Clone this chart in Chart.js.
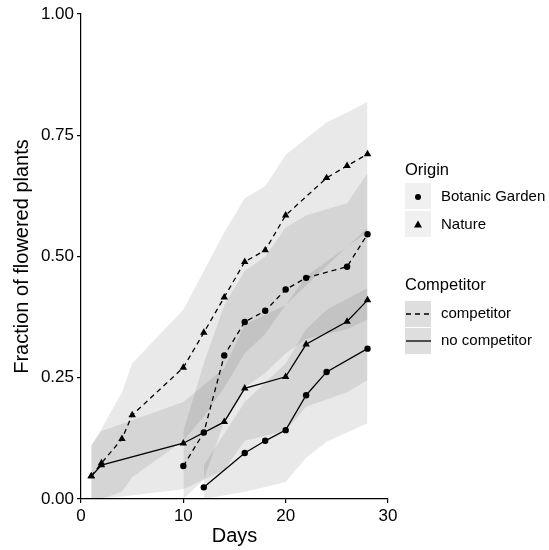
<!DOCTYPE html>
<html>
<head>
<meta charset="utf-8">
<script src="https://cdn.jsdelivr.net/npm/chart.js@4"></script>
<style>
  html, body { margin: 0; padding: 0; background: #fff; }
  #wrap { width: 549px; height: 550px; position: relative; }
</style>
</head>
<body>
<div id="wrap"><canvas id="flowerChart"></canvas></div>
<script>
// Nature, with competitor
const natCompDays  = [1, 2, 4, 5, 10, 12, 14, 16, 18, 20, 24, 26, 28];
const natCompFrac  = [0.047, 0.074, 0.124, 0.173, 0.271, 0.343, 0.416, 0.489, 0.513, 0.585, 0.662, 0.687, 0.711];
const natCompUpper = [0.11, 0.145, 0.22, 0.28, 0.39, 0.47, 0.55, 0.62, 0.645, 0.71, 0.777, 0.797, 0.819];
const natCompLower = [0, 0, 0.015, 0.045, 0.12, 0.17, 0.23, 0.30, 0.34, 0.40, 0.48, 0.52, 0.55];

// Nature, no competitor
const natNoDays  = [1, 2, 10, 14, 16, 20, 22, 26, 28];
const natNoFrac  = [0.047, 0.07, 0.115, 0.159, 0.228, 0.252, 0.319, 0.366, 0.41];
const natNoUpper = [0.11, 0.14, 0.2, 0.27, 0.36, 0.40, 0.46, 0.52, 0.56];
const natNoLower = [0, 0, 0.02, 0.06, 0.12, 0.14, 0.19, 0.22, 0.245];

// Botanic Garden, with competitor
const botCompDays  = [10, 12, 14, 16, 18, 20, 22, 26, 28];
const botCompFrac  = [0.068, 0.137, 0.296, 0.365, 0.388, 0.432, 0.456, 0.479, 0.546];
const botCompUpper = [0.14, 0.28, 0.40, 0.47, 0.50, 0.56, 0.585, 0.61, 0.672];
const botCompLower = [0, 0.04, 0.16, 0.23, 0.26, 0.30, 0.33, 0.35, 0.37];

// Botanic Garden, no competitor
const botNoDays  = [12, 16, 18, 20, 22, 24, 28];
const botNoFrac  = [0.024, 0.095, 0.12, 0.142, 0.214, 0.262, 0.31];
const botNoUpper = [0.07, 0.2, 0.24, 0.28, 0.35, 0.39, 0.435];
const botNoLower = [0, 0.015, 0.025, 0.035, 0.085, 0.118, 0.156];

const xTicks = [0, 10, 20, 30];
const yTicks = [0, 0.25, 0.5, 0.75, 1];

const FONT = '"Liberation Sans", Arial, sans-serif';
const RIBBON = 'rgba(0,0,0,0.085)';

function pts(xs, ys) {
    return xs.map((x, i) => ({ x: x, y: ys[i] }));
}

function ribbon(xs, upper, lower) {
    return [
        { data: pts(xs, upper), borderWidth: 0, pointRadius: 0, fill: '+1', backgroundColor: RIBBON, order: 2 },
        { data: pts(xs, lower), borderWidth: 0, pointRadius: 0, fill: false, order: 2 }
    ];
}

function line(xs, ys, dashed, shape) {
    return {
        data: pts(xs, ys),
        borderColor: '#000',
        borderWidth: 1.3,
        borderDash: dashed ? [5, 4] : [],
        pointStyle: shape,
        pointRadius: shape === 'triangle' ? 4.3 : 3.2,
        pointBackgroundColor: '#000',
        pointBorderColor: '#000',
        pointBorderWidth: 0,
        fill: false,
        tension: 0,
        order: 1
    };
}

// ggplot style legend at the right
const sideLegend = {
    id: 'sideLegend',
    afterDraw(chart) {
        const ctx = chart.ctx;
        ctx.save();
        ctx.fillStyle = '#000';
        ctx.textBaseline = 'middle';
        ctx.textAlign = 'left';

        ctx.font = '16.5px ' + FONT;
        ctx.fillText('Origin', 405, 170);
        ctx.fillText('Competitor', 405, 285);

        ctx.fillStyle = '#f0f0f0';
        ctx.fillRect(405, 183, 26, 26);
        ctx.fillRect(405, 211, 26, 26);
        ctx.fillStyle = '#dedede';
        ctx.fillRect(405, 301, 26, 26);
        ctx.fillRect(405, 328, 26, 26);

        ctx.fillStyle = '#000';
        ctx.beginPath();
        ctx.arc(418, 197, 3, 0, Math.PI * 2);
        ctx.fill();
        ctx.beginPath();
        ctx.moveTo(418, 220.5);
        ctx.lineTo(422, 227.5);
        ctx.lineTo(414, 227.5);
        ctx.closePath();
        ctx.fill();

        ctx.strokeStyle = '#000';
        ctx.lineWidth = 1.3;
        ctx.setLineDash([5, 4]);
        ctx.beginPath();
        ctx.moveTo(406, 314);
        ctx.lineTo(431, 314);
        ctx.stroke();
        ctx.setLineDash([]);
        ctx.beginPath();
        ctx.moveTo(406, 341);
        ctx.lineTo(431, 341);
        ctx.stroke();

        ctx.font = '15px ' + FONT;
        ctx.fillText('Botanic Garden', 441, 197);
        ctx.fillText('Nature', 441, 225);
        ctx.fillText('competitor', 441, 314);
        ctx.fillText('no competitor', 441, 341);
        ctx.restore();
    }
};

const ctx = document.getElementById('flowerChart').getContext('2d');

new Chart(ctx, {
    type: 'line',
    data: {
        datasets: [
            line(natCompDays, natCompFrac, true, 'triangle'),
            line(natNoDays, natNoFrac, false, 'triangle'),
            line(botCompDays, botCompFrac, true, 'circle'),
            line(botNoDays, botNoFrac, false, 'circle'),
            ...ribbon(natCompDays, natCompUpper, natCompLower),
            ...ribbon(natNoDays, natNoUpper, natNoLower),
            ...ribbon(botCompDays, botCompUpper, botCompLower),
            ...ribbon(botNoDays, botNoUpper, botNoLower)
        ]
    },
    options: {
        responsive: true,
        maintainAspectRatio: false,
        animation: false,
        layout: { padding: { left: 0, top: 14, right: 161, bottom: 0 } },
        plugins: {
            legend: { display: false },
            tooltip: { enabled: false }
        },
        scales: {
            x: {
                type: 'linear',
                min: 0,
                max: 30,
                afterFit: s => { s.height = 51; },
                afterBuildTicks: s => { s.ticks = xTicks.map(v => ({ value: v })); },
                border: { display: true, color: '#000', width: 1.2 },
                grid: { drawOnChartArea: false, drawTicks: true, tickLength: 4, color: '#000', lineWidth: 1.2 },
                ticks: { padding: 3, color: '#000', font: { family: FONT, size: 17 }, maxRotation: 0 },
                title: { display: true, text: 'Days', color: '#000', font: { family: FONT, size: 20 }, padding: { top: 0, bottom: 2 } }
            },
            y: {
                type: 'linear',
                min: 0,
                max: 1,
                afterFit: s => { s.width = 81; },
                afterBuildTicks: s => { s.ticks = yTicks.map(v => ({ value: v })); },
                border: { display: true, color: '#000', width: 1.2 },
                grid: { drawOnChartArea: false, drawTicks: true, tickLength: 4, color: '#000', lineWidth: 1.2 },
                ticks: { padding: 3, color: '#000', font: { family: FONT, size: 17 }, callback: v => v.toFixed(2) },
                title: { display: true, text: 'Fraction of flowered plants', color: '#000', font: { family: FONT, size: 20 }, padding: { top: 10, bottom: 0 } }
            }
        }
    },
    plugins: [sideLegend]
});
</script>
</body>
</html>
